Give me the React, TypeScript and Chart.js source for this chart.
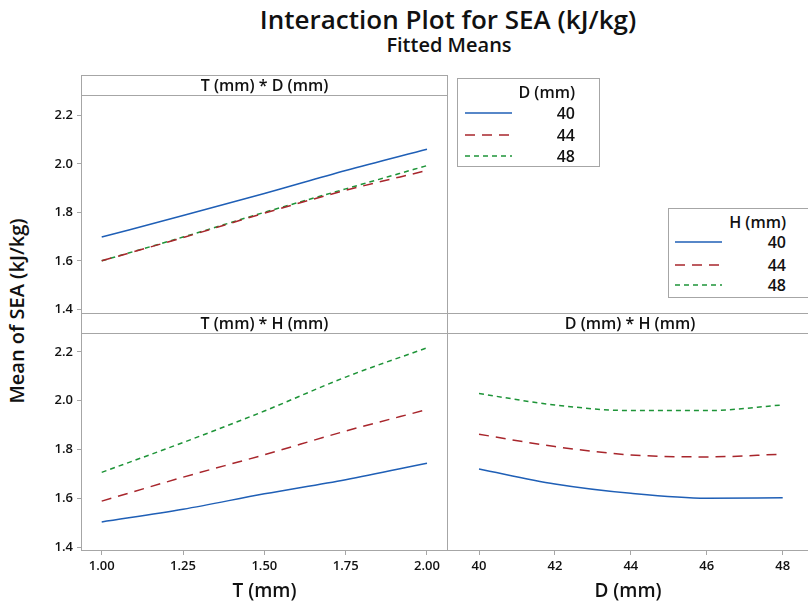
import React, { useEffect, useRef } from 'react';
import { Chart, registerables } from 'chart.js';

Chart.register(...registerables);

// ---------------- data ----------------
const T_VALUES = [1.0, 1.25, 1.5, 1.75, 2.0];
const D_VALUES = [40, 42, 44, 46, 48];
const LEVELS = ['40', '44', '48'];

// T (mm) * D (mm)  — one series per D level
const TD_D40 = [1.698, 1.787, 1.878, 1.973, 2.061];
const TD_D44 = [1.6, 1.696, 1.797, 1.891, 1.973];
const TD_D48 = [1.6, 1.698, 1.8, 1.897, 1.993];

// T (mm) * H (mm)  — one series per H level
const TH_H40 = [1.504, 1.556, 1.619, 1.677, 1.744];
const TH_H44 = [1.589, 1.687, 1.779, 1.876, 1.964];
const TH_H48 = [1.707, 1.829, 1.958, 2.097, 2.217];

// D (mm) * H (mm)  — one series per H level
const DH_H40 = [1.718, 1.657, 1.619, 1.599, 1.601];
const DH_H44 = [1.859, 1.809, 1.775, 1.767, 1.778];
const DH_H48 = [2.024, 1.978, 1.955, 1.955, 1.978];

const T_TICKS = [1.0, 1.25, 1.5, 1.75, 2.0];
const D_TICKS = [40, 42, 44, 46, 48];
const Y_TICKS = [1.4, 1.6, 1.8, 2.0, 2.2];

const TITLE = 'Interaction Plot for SEA (kJ/kg)';
const SUBTITLE = 'Fitted Means';
const Y_TITLE = 'Mean of SEA (kJ/kg)';

// ---------------- styles ----------------
const COLORS = ['#1f5fb6', '#a8262c', '#1e9438'];
const DASHES: number[][] = [[], [10, 7], [5, 4]];
const FRAME = '#a6a6a6';
const FONT = "'Open Sans', 'Noto Sans', sans-serif";
const TEXT = '#111111';

type PanelProps = {
  left: number;
  top: number;
  width: number;
  height: number;
  xs: number[];
  series: number[][];
  xMin: number;
  xMax: number;
  yMin: number;
  yMax: number;
  showX: boolean;
  showY: boolean;
  xTicks: number[];
  xDigits: number;
  xTitle: string;
  padTop: number;
  padBottom: number;
};

function Panel(p: PanelProps) {
  const ref = useRef<HTMLCanvasElement | null>(null);
  useEffect(() => {
    if (!ref.current) return;
    const tickFont = { family: FONT, size: 13, weight: 600 as any };
    const grid = {
      display: true,
      drawOnChartArea: false,
      drawTicks: true,
      tickLength: 5,
      color: FRAME,
    };
    const chart = new Chart(ref.current, {
      type: 'line',
      data: {
        datasets: p.series.map((s, i) => ({
          label: LEVELS[i],
          data: p.xs.map((x, j) => ({ x, y: s[j] })),
          borderColor: COLORS[i],
          borderDash: DASHES[i],
          borderWidth: 1.5,
          pointRadius: 0,
          cubicInterpolationMode: 'monotone' as const,
          fill: false,
        })),
      },
      options: {
        responsive: false,
        animation: false,
        events: [],
        layout: { padding: { top: p.padTop, bottom: p.padBottom, left: 0, right: 0 } },
        plugins: { legend: { display: false }, tooltip: { enabled: false } },
        scales: {
          x: {
            type: 'linear',
            min: p.xMin,
            max: p.xMax,
            display: p.showX,
            afterBuildTicks: (s: any) => {
              s.ticks = p.xTicks.map((v) => ({ value: v }));
            },
            afterFit: p.showX
              ? (s: any) => {
                  s.height = 56;
                }
              : undefined,
            ticks: {
              callback: (v: any) => Number(v).toFixed(p.xDigits),
              font: tickFont,
              color: TEXT,
              padding: 3,
              maxRotation: 0,
              autoSkip: false,
            },
            grid,
            border: { display: false },
            title: {
              display: true,
              text: p.xTitle,
              font: { family: FONT, size: 19, weight: 600 as any, lineHeight: 1.2 },
              color: TEXT,
              padding: { top: 0, bottom: 3 },
            },
          },
          y: {
            type: 'linear',
            min: p.yMin,
            max: p.yMax,
            display: p.showY,
            afterBuildTicks: (s: any) => {
              s.ticks = Y_TICKS.map((v) => ({ value: v }));
            },
            afterFit: p.showY
              ? (s: any) => {
                  s.width = 82;
                }
              : undefined,
            ticks: {
              callback: (v: any) => Number(v).toFixed(1),
              font: tickFont,
              color: TEXT,
              padding: 4,
            },
            grid,
            border: { display: false },
          },
        },
      },
    });
    return () => chart.destroy();
  }, []);
  return (
    <canvas
      ref={ref}
      width={p.width}
      height={p.height}
      style={{ position: 'absolute', left: p.left, top: p.top, width: p.width, height: p.height }}
    />
  );
}

function HLine({ x1, x2, y }: { x1: number; x2: number; y: number }) {
  return <div style={{ position: 'absolute', left: x1, top: y, width: x2 - x1, height: 1, background: FRAME }} />;
}
function VLine({ x, y1, y2 }: { x: number; y1: number; y2: number }) {
  return <div style={{ position: 'absolute', left: x, top: y1, width: 1, height: y2 - y1, background: FRAME }} />;
}

function Header({ text, cx, cy }: { text: string; cx: number; cy: number }) {
  return (
    <div
      style={{
        position: 'absolute',
        left: cx - 150,
        width: 300,
        top: cy - 11,
        height: 22,
        lineHeight: '22px',
        textAlign: 'center',
        fontSize: 16,
        fontWeight: 600,
        color: TEXT,
        whiteSpace: 'nowrap',
      }}
    >
      {text}
    </div>
  );
}

function Legend({
  title,
  left,
  top,
  width,
  height,
  lineX,
  textRight,
  titleY,
  rowYs,
}: {
  title: string;
  left: number;
  top: number;
  width: number;
  height: number;
  lineX: number;
  textRight: number;
  titleY: number;
  rowYs: number[];
}) {
  return (
    <>
      <div
        style={{
          position: 'absolute',
          left,
          top,
          width,
          height,
          border: `1px solid ${FRAME}`,
          boxSizing: 'border-box',
          background: '#fff',
        }}
      />
      <div
        style={{
          position: 'absolute',
          left: textRight - 120,
          width: 120,
          top: titleY - 11,
          height: 22,
          lineHeight: '22px',
          textAlign: 'right',
          fontSize: 16,
          fontWeight: 600,
          color: TEXT,
        }}
      >
        {title}
      </div>
      {LEVELS.map((lv, i) => (
        <React.Fragment key={lv}>
          <svg
            width={48}
            height={4}
            style={{ position: 'absolute', left: lineX, top: rowYs[i] - 2 }}
          >
            <line
              x1={0}
              y1={2}
              x2={47}
              y2={2}
              stroke={COLORS[i]}
              strokeWidth={1.5}
              strokeDasharray={DASHES[i].length ? DASHES[i].join(' ') : undefined}
            />
          </svg>
          <div
            style={{
              position: 'absolute',
              left: textRight - 60,
              width: 60,
              top: rowYs[i] - 11,
              height: 22,
              lineHeight: '22px',
              textAlign: 'right',
              fontSize: 16,
              fontWeight: 600,
              color: TEXT,
            }}
          >
            {lv}
          </div>
        </React.Fragment>
      ))}
    </>
  );
}

export default function App() {
  return (
    <div
      style={{
        position: 'absolute',
        left: 0,
        top: 0,
        width: 808,
        height: 606,
        overflow: 'hidden',
        background: '#fff',
        fontFamily: FONT,
      }}
    >
      {/* titles */}
      <div
        style={{
          position: 'absolute',
          left: 248,
          width: 400,
          top: 3,
          height: 32,
          lineHeight: '32px',
          textAlign: 'center',
          fontSize: 26,
          fontWeight: 600,
          color: TEXT,
          whiteSpace: 'nowrap',
        }}
      >
        {TITLE}
      </div>
      <div
        style={{
          position: 'absolute',
          left: 299,
          width: 300,
          top: 32,
          height: 26,
          lineHeight: '26px',
          textAlign: 'center',
          fontSize: 20,
          fontWeight: 600,
          color: TEXT,
        }}
      >
        {SUBTITLE}
      </div>
      <div
        style={{
          position: 'absolute',
          left: 17 - 120,
          top: 311 - 14,
          width: 240,
          height: 28,
          lineHeight: '28px',
          textAlign: 'center',
          fontSize: 20,
          fontWeight: 600,
          color: TEXT,
          transform: 'rotate(-90deg)',
          whiteSpace: 'nowrap',
        }}
      >
        {Y_TITLE}
      </div>

      {/* charts */}
      <Panel
        left={0}
        top={86}
        width={447}
        height={237}
        xs={T_VALUES}
        series={[TD_D40, TD_D44, TD_D48]}
        xMin={0.9394}
        xMax={2.0615}
        yMin={1.392}
        yMax={2.273}
        showX={false}
        showY={true}
        xTicks={T_TICKS}
        xDigits={2}
        xTitle="T (mm)"
        padTop={10}
        padBottom={10}
      />
      <Panel
        left={0}
        top={324}
        width={447}
        height={282}
        xs={T_VALUES}
        series={[TH_H40, TH_H44, TH_H48]}
        xMin={0.9394}
        xMax={2.0615}
        yMin={1.389}
        yMax={2.266}
        showX={true}
        showY={true}
        xTicks={T_TICKS}
        xDigits={2}
        xTitle="T (mm)"
        padTop={10}
        padBottom={0}
      />
      <Panel
        left={448}
        top={324}
        width={360}
        height={282}
        xs={D_VALUES}
        series={[DH_H40, DH_H44, DH_H48]}
        xMin={39.183}
        xMax={48.666}
        yMin={1.389}
        yMax={2.266}
        showX={true}
        showY={false}
        xTicks={D_TICKS}
        xDigits={0}
        xTitle="D (mm)"
        padTop={10}
        padBottom={0}
      />

      {/* frames */}
      <HLine x1={81} x2={448} y={75} />
      <HLine x1={81} x2={448} y={95} />
      <HLine x1={81} x2={808} y={313} />
      <HLine x1={81} x2={808} y={333} />
      <HLine x1={81} x2={808} y={550} />
      <VLine x={81} y1={75} y2={551} />
      <VLine x={447} y1={75} y2={551} />

      <Header text="T (mm) * D (mm)" cx={264.5} cy={85} />
      <Header text="T (mm) * H (mm)" cx={264.5} cy={323} />
      <Header text="D (mm) * H (mm)" cx={630} cy={323} />

      {/* legends */}
      <Legend
        title="D (mm)"
        left={457}
        top={78}
        width={143}
        height={89}
        lineX={465}
        textRight={575}
        titleY={92}
        rowYs={[113, 135, 156]}
      />
      <Legend
        title="H (mm)"
        left={668}
        top={208}
        width={150}
        height={90}
        lineX={675}
        textRight={786}
        titleY={222}
        rowYs={[242, 265, 285]}
      />
    </div>
  );
}
